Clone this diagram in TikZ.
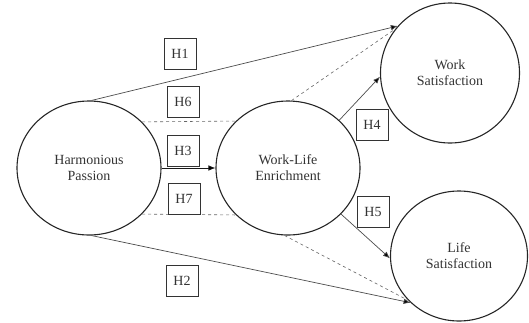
\documentclass[tikz,border=0pt]{standalone}
\usepackage{fontspec}
\setmainfont{Liberation Serif}
\usepackage{tikz}
\usetikzlibrary{shapes.geometric,arrows.meta}

\begin{document}
\begin{tikzpicture}[x=1pt,y=-1pt,
    construct/.style={ellipse,draw=black!85,line width=1.1pt,inner sep=0pt,align=center,text=black!80,font=\fontsize{14}{16}\selectfont},
    hyp/.style={draw=black!80,line width=0.9pt,minimum width=32pt,minimum height=31pt,inner sep=0pt,text=black!80,font=\fontsize{14}{16}\selectfont},
    path/.style={draw=black!70,line width=0.7pt,-{Latex[length=7pt,width=5.5pt,fill=black]}},
    indirect/.style={draw=black!60,line width=0.6pt,dashed}]
    \useasboundingbox (0,0) rectangle (529,322);
    \node[construct,minimum width=144pt,minimum height=134pt] (hp) at (89,168) {Harmonious\\Passion};
    \node[construct,minimum width=144pt,minimum height=134pt] (wle) at (288,168) {Work-Life\\Enrichment};
    \node[construct,minimum width=139pt,minimum height=140pt] (ws) at (450,73) {Work\\Satisfaction};
    \node[construct,minimum width=137pt,minimum height=130pt] (ls) at (459,256) {Life\\Satisfaction};
    \draw[path] (hp.88) -- (ws.138);
    \draw[path] (hp.-88) -- (ls.224);
    \draw[path,draw=black!90] (hp) -- (wle);
    \draw[path] (wle.43) -- (ws.183);
    \draw[path] (wle.-41) -- (ls.182);
    \draw[indirect] (hp.41.3) -- (wle.138.7);
    \draw[indirect] (hp.-41.3) -- (wle.-138.7);
    \draw[indirect] (wle.87) -- (ws.141);
    \draw[indirect] (wle.-93) -- (ls.221);
    \node[hyp,fill=white] (h1) at (180,54) {H1};
    \node[hyp,fill=white] (h6) at (183,102) {H6};
    \node[hyp,fill=white] (h3) at (183,151) {H3};
    \node[hyp,fill=white] (h7) at (184,199) {H7};
    \node[hyp,fill=white] (h2) at (182,281) {H2};
    \node[hyp,fill=white] (h4) at (372,125) {H4};
    \node[hyp,fill=white] (h5) at (373,212) {H5};
\end{tikzpicture}
\end{document}
